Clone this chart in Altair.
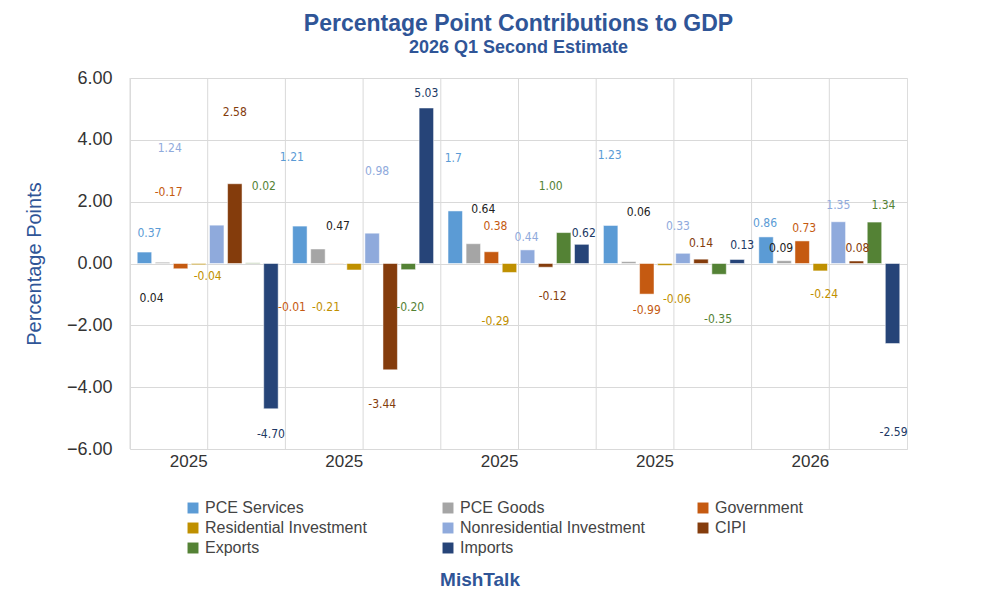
import pandas as pd
import altair as alt

groups = ["g1", "g2", "g3", "g4", "g5"]
group_labels = ["2025", "2025", "2025", "2025", "2026"]
series = ["PCE Services", "PCE Goods", "Government", "Residential Investment",
          "Nonresidential Investment", "CIPI", "Exports", "Imports"]
colors = ["#5B9BD5", "#A5A5A5", "#C55A11", "#BF9000", "#8FAADC", "#843C0C", "#548235", "#264478"]
label_colors = ["#5B9BD5", "#222222", "#C55A11", "#BF9000", "#8FAADC", "#843C0C", "#548235", "#203864"]

values = [
    [0.37, 0.04, -0.17, -0.04, 1.24, 2.58, 0.02, -4.70],
    [1.21, 0.47, -0.01, -0.21, 0.98, -3.44, -0.20, 5.03],
    [1.70, 0.64, 0.38, -0.29, 0.44, -0.12, 1.00, 0.62],
    [1.23, 0.06, -0.99, -0.06, 0.33, 0.14, -0.35, 0.13],
    [0.86, 0.09, 0.73, -0.24, 1.35, 0.08, 1.34, -2.59],
]
label_text = [
    ["0.37", "0.04", "-0.17", "-0.04", "1.24", "2.58", "0.02", "-4.70"],
    ["1.21", "0.47", "-0.01", "-0.21", "0.98", "-3.44", "-0.20", "5.03"],
    ["1.7", "0.64", "0.38", "-0.29", "0.44", "-0.12", "1.00", "0.62"],
    ["1.23", "0.06", "-0.99", "-0.06", "0.33", "0.14", "-0.35", "0.13"],
    ["0.86", "0.09", "0.73", "-0.24", "1.35", "0.08", "1.34", "-2.59"],
]
# where each data label sits, in axis units
label_y = [
    [1.0, -1.1, 2.3, -0.4, 3.75, 4.9, 2.5, -5.5],
    [3.45, 1.2, -1.4, -1.4, 3.0, -4.55, -1.4, 5.5],
    [3.4, 1.75, 1.2, -1.85, 0.85, -1.05, 2.5, 1.0],
    [3.5, 1.65, -1.5, -1.15, 1.2, 0.65, -1.8, 0.6],
    [1.3, 0.5, 1.15, -1.0, 1.9, 0.5, 1.9, -5.45],
]
# horizontal nudge of each label from its bar, pixels
label_dx = [
    [5, -11, -12, 9, -47, 0, 11, 0],
    [-8, 20, -44, -28, 5, -8, 2, 0],
    [-2, 10, 4, -14, -1, 7, -13, 2],
    [-1, 10, 0, 12, -5, 0, -1, 5],
    [-1, -3, 2, 4, 0, 1, 9, 1],
]

rows = []
for gi, g in enumerate(groups):
    for si, s in enumerate(series):
        rows.append({"group": g, "series": s, "value": values[gi][si],
                     "label": label_text[gi][si], "ly": label_y[gi][si],
                     "ldx": label_dx[gi][si], "lcolor": label_colors[si]})
df = pd.DataFrame(rows)
gdf = pd.DataFrame({"group": groups})

label_expr = "{" + ",".join(f"'{g}':'{l}'" for g, l in zip(groups, group_labels)) + "}[datum.value]"

x = alt.X("group:N", sort=groups, title=None,
          scale=alt.Scale(paddingInner=0.0, paddingOuter=0.0),
          axis=alt.Axis(labelExpr=label_expr, labelFontSize=17, labelColor="#333333",
                        labelAngle=0, labelPadding=12, ticks=False, domain=False, grid=False))
xo = alt.XOffset("series:N", sort=series, scale=alt.Scale(paddingInner=0.2, paddingOuter=0.4))
y = alt.Y("value:Q", title="Percentage Points",
          scale=alt.Scale(domain=[-6, 6]),
          axis=alt.Axis(values=[-6, -4, -2, 0, 2, 4, 6], format=".2f", labelFontSize=18,
                        labelColor="#333333", titleFontSize=20, titleColor="#2F5597",
                        titleFontWeight="normal", titlePadding=22, domain=False, ticks=False,
                        gridColor="#D9D9D9", labelPadding=18))

mid_lines = alt.Chart(gdf).mark_rule(color="#D9D9D9", strokeWidth=1).encode(
    x=alt.X("group:N", sort=groups, bandPosition=0.5))
edge_lines = alt.Chart(gdf).mark_rule(color="#D9D9D9", strokeWidth=1).encode(
    x=alt.X("group:N", sort=groups, bandPosition=0))

bars = alt.Chart(df).mark_bar(stroke="white", strokeWidth=0.5).encode(
    x=x, xOffset=xo, y=y,
    color=alt.Color("series:N", sort=series,
                    scale=alt.Scale(domain=series, range=colors),
                    legend=alt.Legend(title=None, orient="none", legendX=55, legendY=422,
                                      columns=3, direction="horizontal", symbolType="square",
                                      symbolSize=120, labelFontSize=16, labelColor="#444444",
                                      columnPadding=50, rowPadding=4, gridAlign="all",
                                      labelLimit=300, symbolStrokeWidth=0)),
)

layers = [mid_lines, edge_lines, bars]
for d in sorted(df["ldx"].unique()):
    layers.append(
        alt.Chart(df).transform_filter(f"datum.ldx == {d}")
        .mark_text(fontSize=12, baseline="middle", dx=int(d),
                   font="DejaVu Sans Condensed, Liberation Sans, sans-serif")
        .encode(x=x, xOffset=xo, y=alt.Y("ly:Q", scale=alt.Scale(domain=[-6, 6])),
                text="label:N", color=alt.Color("lcolor:N", scale=None))
    )

footer = alt.Chart(pd.DataFrame({"t": ["MishTalk"]})).mark_text(
    fontSize=19, fontWeight="bold", color="#2F5597").encode(
    x=alt.value(350), y=alt.value(502), text="t:N")
layers.append(footer)

chart = alt.layer(*layers).properties(
    width=777, height=371,
    padding={"left": 16, "top": 5, "right": 5, "bottom": 5},
    title=alt.Title("Percentage Point Contributions to GDP", subtitle="2026 Q1 Second Estimate",
                    fontSize=23, color="#2F5597", subtitleFontSize=18, subtitleColor="#2F5597",
                    subtitleFontWeight="bold", anchor="middle", offset=12),
).configure_view(stroke="#D9D9D9").configure(font="Liberation Sans, sans-serif")

chart.save("out.html", embed_options={"renderer": "svg", "actions": False})
